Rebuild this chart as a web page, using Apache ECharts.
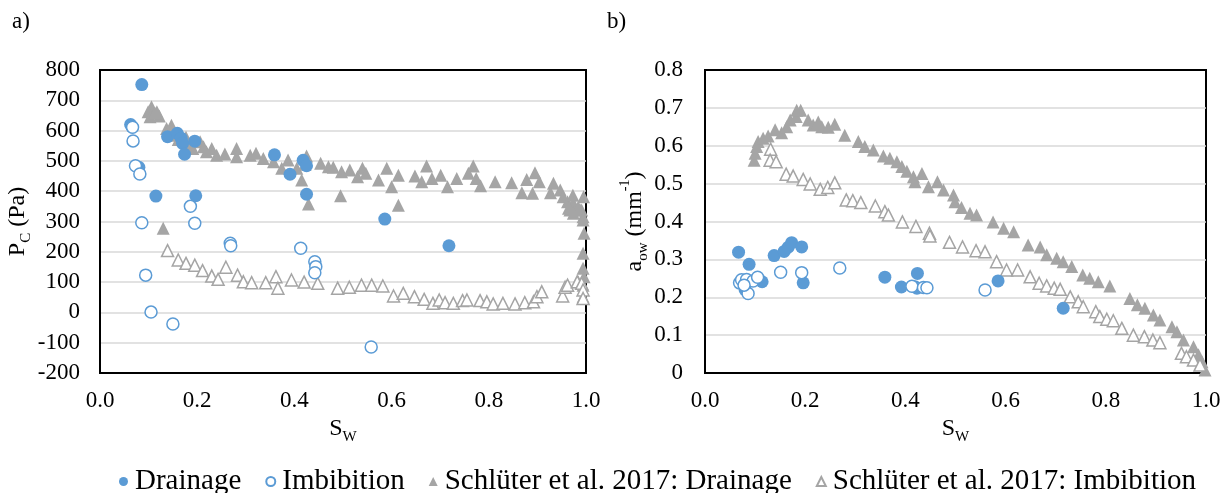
<!DOCTYPE html>
<html>
<head>
<meta charset="utf-8">
<script src="https://cdn.jsdelivr.net/npm/echarts@6/dist/echarts.min.js"></script>
<style>html,body{margin:0;padding:0;background:#fff}#c{width:1225px;height:493px}</style>
</head>
<body>
<div id="c"></div>
<script>
// ---------- Data (Sw, value) ----------
// Panel a) capillary pressure Pc (Pa)
const pcDrainage = [[0.063,620],[0.066,612],[0.086,752],[0.080,479],[0.115,384],[0.139,580],[0.159,591],[0.167,575],[0.170,558],[0.174,522],[0.195,565],[0.197,385],[0.359,520],[0.391,456],[0.418,502],[0.425,484],[0.425,390],[0.586,308],[0.718,220]];
const pcImbibition = [[0.067,611],[0.068,566],[0.073,484],[0.082,457],[0.086,296],[0.094,123],[0.105,1],[0.150,-38],[0.186,350],[0.195,294],[0.268,228],[0.269,220],[0.413,212],[0.442,167],[0.444,151],[0.442,131],[0.558,-114]];
const pcSchlDrainage = [[0.106,679],[0.099,662],[0.117,662],[0.103,646],[0.122,648],[0.113,657],[0.137,607],[0.147,618],[0.144,602],[0.154,585],[0.161,571],[0.177,578],[0.185,552],[0.191,541],[0.206,563],[0.213,547],[0.219,530],[0.230,541],[0.240,519],[0.257,523],[0.281,541],[0.281,514],[0.309,519],[0.321,525],[0.336,508],[0.357,497],[0.374,476],[0.387,503],[0.405,476],[0.415,437],[0.425,516],[0.422,489],[0.429,358],[0.130,278],[0.454,492],[0.470,481],[0.480,479],[0.497,464],[0.495,385],[0.514,470],[0.530,448],[0.540,476],[0.547,459],[0.573,437],[0.590,476],[0.600,415],[0.614,453],[0.614,354],[0.648,450],[0.662,431],[0.672,483],[0.683,442],[0.701,453],[0.715,415],[0.734,442],[0.758,459],[0.768,483],[0.774,442],[0.783,418],[0.813,431],[0.847,428],[0.868,395],[0.878,439],[0.890,393],[0.895,461],[0.904,431],[0.933,426],[0.927,395],[0.947,404],[0.953,382],[0.962,365],[0.973,387],[0.974,360],[0.984,347],[0.995,382],[0.967,338],[0.991,338],[0.964,344],[0.974,327],[0.988,338],[0.994,316],[0.994,305],[0.996,261],[0.994,195],[0.994,146],[0.996,118],[0.994,90],[0.994,52],[0.984,101]];
const pcSchlImbibition = [[0.139,204],[0.161,173],[0.177,162],[0.195,156],[0.211,138],[0.230,120],[0.243,109],[0.259,149],[0.283,123],[0.295,101],[0.312,98],[0.341,98],[0.362,118],[0.366,80],[0.394,107],[0.420,100],[0.448,96],[0.489,80],[0.513,83],[0.538,90],[0.559,90],[0.582,87],[0.604,54],[0.624,63],[0.647,52],[0.667,43],[0.685,30],[0.698,41],[0.710,32],[0.727,30],[0.746,39],[0.755,41],[0.782,39],[0.796,35],[0.809,28],[0.829,30],[0.854,28],[0.874,32],[0.892,35],[0.899,52],[0.909,68],[0.952,54],[0.957,83],[0.962,90],[0.982,101],[0.991,96],[0.994,74],[0.994,46]];

// Panel b) interfacial area a_ow (mm^-1)
const aDrainage = [[0.067,0.319],[0.088,0.287],[0.080,0.220],[0.114,0.241],[0.138,0.310],[0.158,0.321],[0.166,0.332],[0.173,0.344],[0.193,0.333],[0.196,0.238],[0.359,0.253],[0.392,0.227],[0.419,0.228],[0.424,0.263],[0.423,0.224],[0.585,0.243],[0.715,0.171]];
const aImbibition = [[0.069,0.238],[0.073,0.246],[0.083,0.247],[0.086,0.210],[0.096,0.243],[0.105,0.253],[0.078,0.232],[0.151,0.266],[0.193,0.265],[0.269,0.277],[0.413,0.229],[0.436,0.226],[0.443,0.225],[0.559,0.219]];
const aSchlDrainage = [[0.098,0.562],[0.100,0.580],[0.103,0.598],[0.106,0.611],[0.116,0.620],[0.126,0.626],[0.140,0.642],[0.153,0.634],[0.163,0.650],[0.170,0.668],[0.182,0.677],[0.183,0.694],[0.191,0.694],[0.206,0.668],[0.216,0.655],[0.226,0.663],[0.233,0.650],[0.246,0.649],[0.259,0.657],[0.279,0.628],[0.306,0.611],[0.319,0.598],[0.336,0.589],[0.356,0.573],[0.369,0.567],[0.383,0.558],[0.393,0.545],[0.403,0.533],[0.416,0.518],[0.419,0.505],[0.433,0.527],[0.446,0.492],[0.464,0.505],[0.476,0.483],[0.496,0.470],[0.499,0.452],[0.512,0.437],[0.529,0.422],[0.542,0.417],[0.575,0.399],[0.596,0.382],[0.616,0.373],[0.645,0.338],[0.669,0.333],[0.682,0.312],[0.702,0.303],[0.715,0.294],[0.732,0.281],[0.754,0.259],[0.768,0.250],[0.785,0.241],[0.808,0.230],[0.848,0.197],[0.863,0.180],[0.878,0.171],[0.895,0.153],[0.908,0.140],[0.932,0.122],[0.942,0.109],[0.955,0.087],[0.975,0.069],[0.985,0.048],[0.992,0.030],[0.998,0.008]];
const aSchlImbibition = [[0.131,0.591],[0.130,0.562],[0.142,0.558],[0.162,0.525],[0.176,0.520],[0.196,0.511],[0.210,0.499],[0.230,0.485],[0.245,0.490],[0.259,0.502],[0.282,0.457],[0.295,0.455],[0.311,0.450],[0.340,0.441],[0.359,0.426],[0.366,0.417],[0.394,0.399],[0.421,0.387],[0.448,0.369],[0.449,0.362],[0.488,0.345],[0.514,0.333],[0.541,0.323],[0.559,0.320],[0.582,0.294],[0.602,0.272],[0.624,0.272],[0.649,0.254],[0.667,0.237],[0.682,0.230],[0.697,0.224],[0.709,0.221],[0.729,0.201],[0.745,0.188],[0.755,0.175],[0.780,0.162],[0.788,0.149],[0.802,0.142],[0.815,0.138],[0.832,0.118],[0.855,0.100],[0.877,0.096],[0.894,0.087],[0.908,0.080],[0.951,0.052],[0.961,0.043],[0.975,0.034],[0.988,0.021]];

const seriesNames = ['Drainage','Imbibition','Schlüter et al. 2017: Drainage','Schlüter et al. 2017: Imbibition'];
const xTicks = {min:0, max:1, interval:0.2};
const pcTicks = {min:-200, max:800, interval:100};
const aTicks = {min:0, max:0.8, interval:0.1};

// ---------- Chart ----------
const FONT = '"Liberation Serif","Times New Roman",serif';
const BLUE = '#5B9BD5', GRAY = '#A5A5A5';
const chart = echarts.init(document.getElementById('c'), null, {renderer:'canvas'});

const tickFont = {color:'#000', fontFamily:FONT, fontSize:23};
const rich = {
  n:{fontFamily:FONT, fontSize:24, color:'#000', lineHeight:32},
  sub:{fontFamily:FONT, fontSize:15, color:'#000', verticalAlign:'bottom'},
  sup:{fontFamily:FONT, fontSize:14, color:'#000', verticalAlign:'top'}
};

function xAxis(gi){
  return {gridIndex:gi, type:'value', min:xTicks.min, max:xTicks.max, interval:xTicks.interval,
    axisLine:{show:true, onZero:false, lineStyle:{color:'#000', width:2}}, axisTick:{show:false},
    splitLine:{show:false},
    axisLabel:Object.assign({margin:16, formatter:v=>v.toFixed(1)}, tickFont),
    name:'{n|S}{sub|W}', nameLocation:'middle', nameGap:36, nameTextStyle:{rich:rich}};
}
function yAxis(gi, t, name, gap, margin, fmt){
  return {gridIndex:gi, type:'value', min:t.min, max:t.max, interval:t.interval,
    axisLine:{show:true, onZero:false, lineStyle:{color:'#000', width:2}}, axisTick:{show:false},
    splitLine:{show:true, showMinLine:false, showMaxLine:false, lineStyle:{color:'#D9D9D9', width:1.5}},
    axisLabel:Object.assign({margin:margin, formatter:fmt}, tickFont),
    name:name, nameLocation:'middle', nameGap:gap, nameTextStyle:{rich:rich}};
}

function filled(name, gi, data, sym, color){
  return {name, type:'scatter', xAxisIndex:gi, yAxisIndex:gi, data, symbol:sym, symbolSize:13,
    itemStyle:{color:color, borderColor:color, borderWidth:0, opacity:1}};
}
function hollow(name, gi, data, sym, color){
  return {name, type:'scatter', xAxisIndex:gi, yAxisIndex:gi, data, symbol:sym, symbolSize:12,
    itemStyle:{color:'#fff', borderColor:color, borderWidth:1.5, opacity:1}};
}

const option = {
  animation:false,
  backgroundColor:'#fff',
  textStyle:{fontFamily:FONT},
  grid:[
    {left:100, top:70, width:486, height:303, containLabel:false, outerBoundsMode:'none', show:true, borderColor:'#000', borderWidth:2, backgroundColor:'transparent'},
    {left:705, top:70, width:501, height:303, containLabel:false, outerBoundsMode:'none', show:true, borderColor:'#000', borderWidth:2, backgroundColor:'transparent'}
  ],
  xAxis:[xAxis(0), xAxis(1)],
  yAxis:[
    yAxis(0, pcTicks, '{n|P}{sub|C}{n| (Pa)}', 66, 20, v=>String(v)),
    yAxis(1, aTicks, '{n|a}{sub|ow}{n| (mm}{sup|-1}{n|)}', 52, 22, v=>v===0?'0':v.toFixed(1))
  ],
  legend:{
    data:seriesNames, top:462, left:114, itemWidth:9, itemHeight:9, itemGap:24,
    textStyle:{fontFamily:FONT, fontSize:29, color:'#000', padding:[0,0,0,2]}
  },
  graphic:[
    {type:'text', left:12, top:10, style:{text:'a)', font:'23px '+FONT, fill:'#000'}},
    {type:'text', left:607, top:10, style:{text:'b)', font:'23px '+FONT, fill:'#000'}}
  ],
  series:[
    filled(seriesNames[2], 0, pcSchlDrainage, 'triangle', GRAY),
    hollow(seriesNames[3], 0, pcSchlImbibition, 'triangle', GRAY),
    filled(seriesNames[0], 0, pcDrainage, 'circle', BLUE),
    hollow(seriesNames[1], 0, pcImbibition, 'circle', BLUE),
    filled(seriesNames[2], 1, aSchlDrainage, 'triangle', GRAY),
    hollow(seriesNames[3], 1, aSchlImbibition, 'triangle', GRAY),
    filled(seriesNames[0], 1, aDrainage, 'circle', BLUE),
    hollow(seriesNames[1], 1, aImbibition, 'circle', BLUE)
  ]
};
chart.setOption(option);
</script>
</body>
</html>
